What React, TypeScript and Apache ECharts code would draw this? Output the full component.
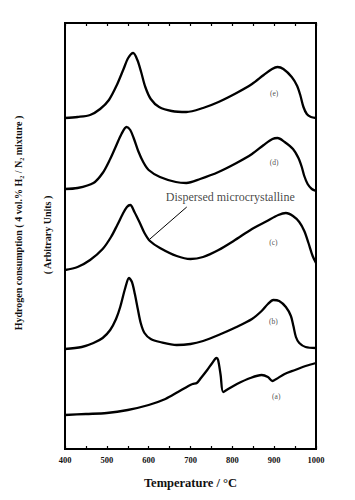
import React, { useEffect, useRef } from "react";
import * as echarts from "echarts";

// Temperature axis (°C)
const tempMin = 400;
const tempMax = 1000;
const tempTickStep = 50;
const tempLabelStep = 100;
// Arbitrary-unit axis range
const yMin = 1;
const yMax = 427;

// Curves: [temperature °C, hydrogen consumption (arbitrary units, stacked offsets)]
const curveA: number[][] = [
  [400, 35], [450, 36], [500, 37], [550, 40], [600, 45], [640, 51], [670, 58], [695, 64],
  [705, 66], [715, 67], [725, 72], [740, 80], [752, 87], [762, 92], [766, 90], [772, 75],
  [778, 58], [790, 61], [811, 66], [843, 72], [870, 75], [885, 73], [896, 69], [905, 71],
  [925, 76], [950, 80], [975, 84], [1000, 87],
];
const curveB: number[][] = [
  [400, 101], [440, 103], [468, 107], [490, 112], [508, 120], [522, 131], [532, 143], [544, 162],
  [553, 172], [560, 168], [567, 156], [574, 141], [581, 127], [590, 117], [605, 111], [627, 108],
  [667, 105], [700, 106], [730, 109], [767, 115], [810, 123], [847, 131], [870, 139], [885, 146],
  [898, 150], [912, 149], [928, 143], [940, 134], [946, 124], [952, 113], [960, 107], [975, 103],
  [1000, 102],
];
const curveC: number[][] = [
  [400, 180], [430, 183], [460, 190], [490, 201], [510, 213], [525, 225], [538, 236], [548, 243],
  [556, 245], [566, 238], [579, 227], [590, 217], [603, 209], [627, 202], [667, 194], [700, 191],
  [730, 193], [767, 200], [803, 209], [847, 221], [883, 229], [910, 235], [928, 237], [945, 234],
  [960, 228], [972, 219], [982, 207], [992, 194], [1000, 187],
];
const curveD: number[][] = [
  [400, 261], [430, 262], [468, 267], [490, 277], [508, 291], [522, 304], [535, 316], [547, 323],
  [556, 320], [565, 311], [575, 299], [587, 288], [600, 280], [627, 273], [665, 268], [690, 267],
  [723, 271], [767, 278], [810, 287], [847, 296], [875, 305], [896, 311], [908, 312], [925, 308],
  [945, 301], [958, 292], [966, 283], [972, 274], [980, 266], [990, 261], [1000, 259],
];
const curveE: number[][] = [
  [400, 332], [430, 333], [460, 335], [484, 341], [505, 350], [524, 365], [540, 381], [551, 392],
  [563, 397], [573, 390], [582, 378], [592, 363], [605, 351], [625, 343], [655, 339], [690, 338],
  [730, 342], [767, 348], [810, 357], [847, 366], [875, 375], [895, 381], [908, 383], [922, 381],
  [942, 373], [955, 364], [963, 354], [970, 343], [978, 336], [988, 333], [1000, 332],
];

const curveNames = ["(a)", "(b)", "(c)", "(d)", "(e)"];
const curveLabelPositions: number[][] = [
  [905, 54], [898, 129], [898, 208], [900, 288], [900, 357],
];

const annotationText = "Dispersed microcrystalline";
const annotationPosition = [795, 253];
const arrowFrom = [691, 243];
const arrowTo = [603, 211];

const xTitle = "Temperature / °C";
const yTitle = "Hydrogen consumption ( 4 vol.% H\u2082 / N\u2082 mixture )";
const yUnits = "( Arbitrary Units )";

const SERIF = "'Liberation Serif', 'Times New Roman', serif";

const GRID = { left: 65, right: 39, top: 23, bottom: 51 };
const W = 355;
const H = 500;

export default function App() {
  const ref = useRef<HTMLDivElement>(null);

  useEffect(() => {
    if (!ref.current) return;
    const chart = echarts.init(ref.current, undefined, { renderer: "svg" });
    const curves = [curveA, curveB, curveC, curveD, curveE];

    chart.setOption({
      animation: false,
      grid: { ...GRID, show: true, borderColor: "#000", borderWidth: 2 },
      xAxis: [
        {
          type: "value",
          position: "bottom",
          min: tempMin,
          max: tempMax,
          interval: tempTickStep,
          splitLine: { show: false },
          axisLine: { show: true, lineStyle: { color: "#000", width: 2 } },
          axisTick: { show: true, inside: true, length: 3, lineStyle: { color: "#000", width: 1.2 } },
          name: xTitle,
          nameLocation: "middle",
          nameGap: 27,
          nameTextStyle: { fontFamily: SERIF, fontWeight: "bold", fontSize: 12.5, color: "#111" },
          axisLabel: {
            margin: 6,
            fontFamily: SERIF,
            fontWeight: "bold",
            fontSize: 8.5,
            color: "#111",
            formatter: (v: number) => (v % tempLabelStep === 0 ? String(v) : ""),
          },
        },
        {
          type: "value",
          position: "top",
          min: tempMin,
          max: tempMax,
          interval: tempTickStep,
          splitLine: { show: false },
          axisLine: { show: true, lineStyle: { color: "#000", width: 2 } },
          axisTick: { show: true, inside: true, length: 3, lineStyle: { color: "#000", width: 1.2 } },
          axisLabel: { show: false },
        },
      ],
      yAxis: [
        {
          type: "value",
          min: yMin,
          max: yMax,
          position: "left",
          splitLine: { show: false },
          axisLabel: { show: false },
          axisTick: { show: false },
          axisLine: { show: true, lineStyle: { color: "#000", width: 2 } },
        },
        {
          type: "value",
          min: yMin,
          max: yMax,
          position: "right",
          splitLine: { show: false },
          axisLabel: { show: false },
          axisTick: { show: false },
          axisLine: { show: true, lineStyle: { color: "#000", width: 2 } },
        },
      ],
      series: [
        ...curves.map((data, i) => ({
          type: "line",
          name: curveNames[i],
          data,
          smooth: 0.3,
          symbol: "none",
          silent: true,
          lineStyle: { color: "#000", width: 2.3 },
        })),
        {
          type: "scatter",
          silent: true,
          symbol: "circle",
          symbolSize: 0.1,
          itemStyle: { color: "#000" },
          label: {
            show: true,
            position: "inside",
            formatter: (p: any) => p.name,
            fontFamily: SERIF,
            fontSize: 7.5,
            color: "#222",
          },
          data: [
            ...curveLabelPositions.map((pos, i) => ({ name: curveNames[i], value: pos })),
            {
              name: annotationText,
              value: annotationPosition,
              label: { fontSize: 12, color: "#111" },
            },
          ],
          markLine: {
            silent: true,
            symbol: ["none", "arrow"],
            symbolSize: [0, 7],
            label: { show: false },
            lineStyle: { color: "#000", width: 1, type: "solid" },
            data: [[{ coord: arrowFrom }, { coord: arrowTo }]],
          },
        },
      ],
      graphic: [
        {
          type: "text",
          x: 18,
          y: 223,
          rotation: Math.PI / 2,
          style: {
            text: yTitle,
            fontFamily: SERIF,
            fontWeight: "bold",
            fontSize: 10,
            fill: "#111",
            align: "center",
            verticalAlign: "middle",
          },
        },
        {
          type: "text",
          x: 47,
          y: 235,
          rotation: Math.PI / 2,
          style: {
            text: yUnits,
            fontFamily: SERIF,
            fontWeight: "bold",
            fontSize: 10,
            fill: "#111",
            align: "center",
            verticalAlign: "middle",
          },
        },
      ],
    });

    return () => chart.dispose();
  }, []);

  return <div ref={ref} style={{ width: W, height: H, position: "absolute", left: 0, top: 0, background: "#fff" }} />;
}
